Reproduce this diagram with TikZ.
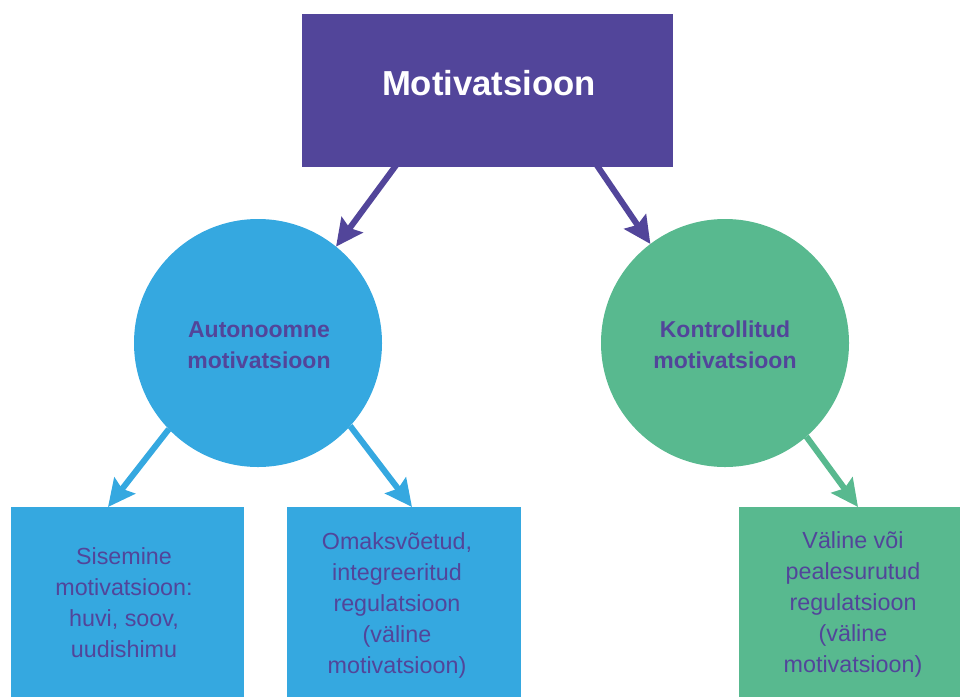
\documentclass[tikz,border=0pt]{standalone}
\usepackage{fontspec}
\setmainfont{Liberation Sans}
\usetikzlibrary{arrows.meta}
\definecolor{mpurple}{HTML}{52459A}
\definecolor{mblue}{HTML}{35A8E0}
\definecolor{mgreen}{HTML}{58B98F}
\tikzset{
  box/.style={draw=none,inner sep=0pt,outer sep=0pt},
  circ/.style={circle,draw=none,inner sep=0pt,outer sep=0pt,minimum size=248pt},
  boxtext/.style={text=mpurple,align=center,font=\fontsize{23.3}{31}\selectfont},
  circtext/.style={text=mpurple,align=center,font=\bfseries\fontsize{23}{31}\selectfont},
  conn/.style={line width=6pt,-{Stealth[length=27pt,width=26pt,inset=4pt]}},
}
\begin{document}
\begin{tikzpicture}[x=1pt,y=-1pt]
\useasboundingbox (0,0) rectangle (960,697);
% top box
\node[box,fill=mpurple,minimum width=371pt,minimum height=153pt] (top) at (487.5,90.5) {};
\node[text=white,font=\bfseries\fontsize{34.7}{40}\selectfont] (toptxt) at (489,83) {Motivatsioon};
% circles
\node[circ,fill=mblue] (lc) at (258,343) {};
\node[circ,fill=mgreen] (rc) at (725,343) {};
\node[circtext] (lct) at (259,345) {Autonoomne\\motivatsioon};
\node[circtext] (rct) at (725,345) {Kontrollitud\\motivatsioon};
% bottom boxes
\node[box,fill=mblue,minimum width=233pt,minimum height=190pt] (lb) at (127.5,602) {};
\node[box,fill=mblue,minimum width=234pt,minimum height=190pt] (mb) at (404,602) {};
\node[box,fill=mgreen,minimum width=221pt,minimum height=190pt] (rb) at (849.5,602) {};
\node[boxtext] (lbt) at (124,603) {Sisemine\\motivatsioon:\\huvi, soov,\\uudishimu};
\node[boxtext] (mbt) at (397,605) {Omaksvõetud,\\integreeritud\\regulatsioon\\(väline\\motivatsioon)};
\node[boxtext] (rbt) at (853,604) {Väline või\\pealesurutud\\regulatsioon\\(väline\\motivatsioon)};
% connectors
\draw[conn,mpurple] ([xshift=-90.5pt,yshift=3pt]top.south) -- (lc.51);
\draw[conn,mpurple] ([xshift=108.5pt,yshift=3pt]top.south) -- (rc.127);
\draw[conn,mblue] (lc.224) -- ([xshift=-19.5pt]lb.north);
\draw[conn,mblue] (lc.318) -- ([xshift=8pt]mb.north);
\draw[conn,mgreen] (rc.311) -- ([xshift=8.5pt]rb.north);
\end{tikzpicture}
\end{document}
